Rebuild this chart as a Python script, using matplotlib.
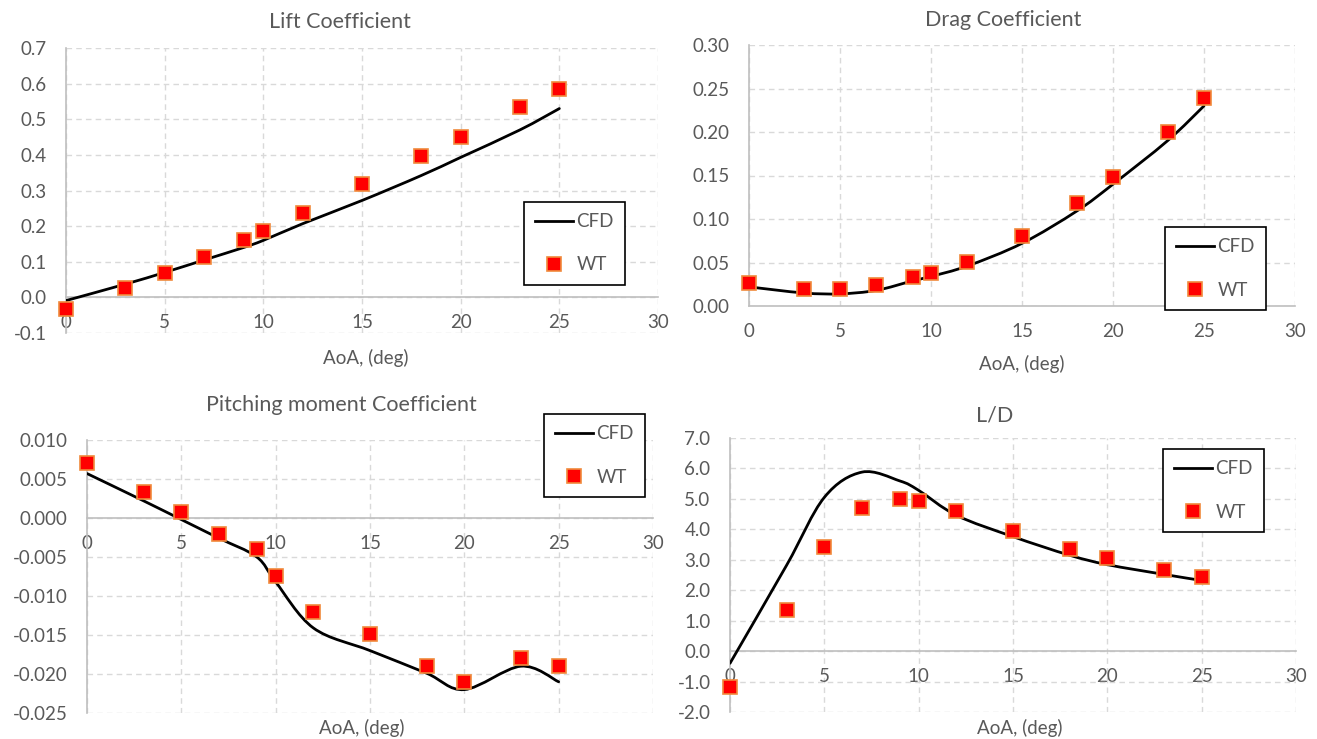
import numpy as np
import matplotlib
matplotlib.use('Agg')
import matplotlib.pyplot as plt
from matplotlib.path import Path
from matplotlib.patches import PathPatch
from matplotlib.lines import Line2D
from matplotlib.ticker import MultipleLocator, FuncFormatter

plt.rcParams['font.family'] = ['Lato', 'DejaVu Sans']
plt.rcParams['axes.unicode_minus'] = False

# angle of attack, deg
aoa = [0, 3, 5, 7, 9, 10, 12, 15, 18, 20, 23, 25]

cl_cfd = [-0.009, 0.037, 0.070, 0.105, 0.140, 0.160, 0.207, 0.272, 0.342, 0.393, 0.470, 0.530]
cl_wt = [-0.033, 0.026, 0.068, 0.113, 0.161, 0.187, 0.238, 0.317, 0.397, 0.451, 0.533, 0.586]

cd_cfd = [0.022, 0.015, 0.014, 0.018, 0.029, 0.034, 0.046, 0.072, 0.109, 0.140, 0.190, 0.230]
cd_wt = [0.027, 0.020, 0.020, 0.024, 0.033, 0.038, 0.051, 0.080, 0.118, 0.148, 0.200, 0.239]

cm_cfd = [0.0057, 0.0022, -0.0002, -0.0026, -0.0050, -0.0082, -0.0141, -0.0170, -0.0199, -0.0220, -0.0190, -0.0210]
cm_wt = [0.0070, 0.0033, 0.0008, -0.0020, -0.0040, -0.0075, -0.0120, -0.0149, -0.0190, -0.0210, -0.0180, -0.0190]

ld_cfd = [-0.40, 2.82, 5.05, 5.88, 5.59, 5.28, 4.46, 3.76, 3.15, 2.84, 2.52, 2.32]
ld_wt = [-1.17, 1.34, 3.43, 4.71, 5.01, 4.94, 4.59, 3.95, 3.37, 3.06, 2.67, 2.45]

W, H = 1317, 739
grey = '#595959'


def smooth_path(x, y):
    # excel-like smoothed line: catmull-rom through the points as bezier curves
    pts = np.column_stack([x, y]).astype(float)
    p = np.vstack([pts[0], pts, pts[-1]])
    verts = [pts[0]]
    codes = [Path.MOVETO]
    for i in range(1, len(p) - 2):
        c1 = p[i] + (p[i + 1] - p[i - 1]) / 6
        c2 = p[i + 1] - (p[i + 2] - p[i]) / 6
        verts += [c1, c2, p[i + 1]]
        codes += [Path.CURVE4] * 3
    return Path(verts, codes)


def px_box(x0, x1, ytop, ybot):
    return [x0 / W, 1 - ybot / H, (x1 - x0) / W, (ybot - ytop) / H]


def make_fmt(nd):
    def f(v, pos):
        s = '%.*f' % (nd, v)
        if float(s) == 0:
            s = '%.*f' % (nd, 0.0)
        return s
    return FuncFormatter(f)


fig = plt.figure(figsize=(W / 100, H / 100), dpi=100)

panels = [
    dict(box=px_box(66, 658, 48, 333), cfd=cl_cfd, wt=cl_wt, ylim=(-0.1, 0.7), step=0.1, nd=1,
         title='Lift Coefficient', tpos=(340, 22), xlpos=(366, 358), leg=(524, 202)),
    dict(box=px_box(749, 1295, 45, 306), cfd=cd_cfd, wt=cd_wt, ylim=(0, 0.30), step=0.05, nd=2,
         title='Drag Coefficient', tpos=(1003, 20), xlpos=(1022, 364), leg=(1165, 227)),
    dict(box=px_box(87, 653, 440, 713), cfd=cm_cfd, wt=cm_wt, ylim=(-0.025, 0.010), step=0.005, nd=3,
         title='Pitching moment Coefficient', tpos=(341, 405), xlpos=(362, 728), leg=(544, 414)),
    dict(box=px_box(730, 1296, 438, 712), cfd=ld_cfd, wt=ld_wt, ylim=(-2, 7), step=1, nd=1,
         title='L/D', tpos=(995, 415), xlpos=(1020, 728), leg=(1163, 449)),
]

for pn in panels:
    ax = fig.add_axes(pn['box'])
    ax.add_patch(PathPatch(smooth_path(aoa, pn['cfd']), fill=False, edgecolor='black',
                           lw=2, capstyle='round', joinstyle='round', zorder=3))
    ax.plot(aoa, pn['wt'], ls='none', marker='s', markersize=10, mfc='#FF0000',
            mec='#F08A3C', mew=1.2, zorder=4, clip_on=False)
    ax.set_xlim(0, 30)
    ax.set_ylim(*pn['ylim'])
    ax.xaxis.set_major_locator(MultipleLocator(5))
    ax.yaxis.set_major_locator(MultipleLocator(pn['step']))
    ax.yaxis.set_major_formatter(make_fmt(pn['nd']))
    ax.grid(True, ls=(0, (4, 3)), color='#D9D9D9', lw=1, zorder=0)
    ax.set_axisbelow(True)
    for s in ['top', 'right']:
        ax.spines[s].set_visible(False)
    ax.spines['bottom'].set_position(('data', 0))
    ax.spines['left'].set_color('#BFBFBF')
    ax.spines['bottom'].set_color('#BFBFBF')
    ax.spines['left'].set_linewidth(1.2)
    ax.spines['bottom'].set_linewidth(1.2)
    ax.tick_params(axis='both', length=0, labelsize=13.5, labelcolor=grey)
    ax.tick_params(axis='y', pad=14)
    ax.tick_params(axis='x', pad=12)

    fig.text(pn['tpos'][0] / W, 1 - pn['tpos'][1] / H, pn['title'], ha='center', va='center',
             fontsize=15.5, color=grey)
    fig.text(pn['xlpos'][0] / W, 1 - pn['xlpos'][1] / H, 'AoA, (deg)', ha='center', va='center',
             fontsize=13.5, color=grey)

    handles = [Line2D([], [], color='black', lw=2),
               Line2D([], [], ls='none', marker='s', markersize=10, mfc='#FF0000', mec='#F08A3C', mew=1.2)]
    leg = ax.legend(handles, ['CFD', 'WT'], loc='upper left',
                    bbox_to_anchor=(pn['leg'][0] / W, 1 - pn['leg'][1] / H),
                    bbox_transform=fig.transFigure, borderaxespad=0, fontsize=13.5,
                    frameon=True, fancybox=False, edgecolor='black', framealpha=1,
                    labelspacing=1.4, handlelength=2.0, handletextpad=0.2, borderpad=0.6,
                    labelcolor=grey)
    leg.get_frame().set_linewidth(1.2)

fig.savefig('out.png', dpi=100)
